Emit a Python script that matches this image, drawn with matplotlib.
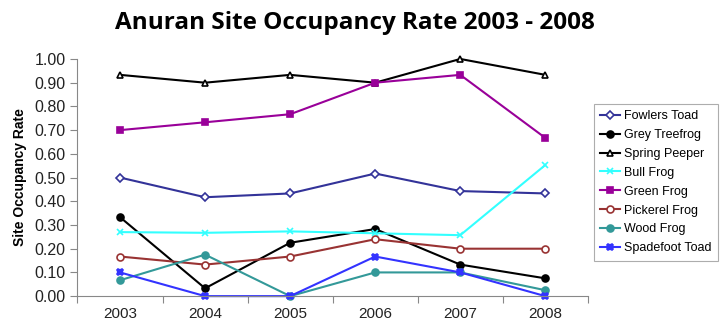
import matplotlib
matplotlib.use("Agg")
import matplotlib.pyplot as plt
import numpy as np

plt.rcParams['font.family'] = ['Liberation Sans', 'DejaVu Sans']

years = ['2003', '2004', '2005', '2006', '2007', '2008']

fowlers_toad = [0.50, 0.417, 0.433, 0.517, 0.443, 0.433]
grey_treefrog = [0.333, 0.033, 0.225, 0.283, 0.133, 0.075]
spring_peeper = [0.933, 0.900, 0.933, 0.900, 1.000, 0.933]
bull_frog = [0.270, 0.267, 0.273, 0.265, 0.257, 0.553]
green_frog = [0.700, 0.733, 0.767, 0.900, 0.933, 0.667]
pickerel_frog = [0.167, 0.133, 0.167, 0.240, 0.200, 0.200]
wood_frog = [0.067, 0.175, 0.000, 0.100, 0.100, 0.025]
spadefoot_toad = [0.100, 0.000, 0.000, 0.167, 0.100, 0.000]

series = [
    ('Fowlers Toad', fowlers_toad, '#333399', 'D', 'white', 4),
    ('Grey Treefrog', grey_treefrog, '#000000', 'o', '#000000', 5),
    ('Spring Peeper', spring_peeper, '#000000', '^', 'white', 5),
    ('Bull Frog', bull_frog, '#33ffff', 'x', '#33ffff', 5),
    ('Green Frog', green_frog, '#990099', 's', '#990099', 5),
    ('Pickerel Frog', pickerel_frog, '#993333', 'o', 'white', 5),
    ('Wood Frog', wood_frog, '#339999', 'o', '#339999', 5),
    ('Spadefoot Toad', spadefoot_toad, '#3333ff', 'X', '#3333ff', 5),
]

fig = plt.figure(figsize=(7.24, 3.24), dpi=100)
ax = fig.add_axes([0.107, 0.086, 0.705, 0.732])

x = np.arange(len(years))
for name, vals, color, marker, mfc, ms in series:
    ax.plot(x, vals, color=color, linewidth=1.5, marker=marker, markersize=ms,
            markerfacecolor=mfc, markeredgecolor=color, markeredgewidth=1.2,
            label=name, clip_on=False)

ax.set_xlim(-0.5, len(years) - 0.5)
ax.set_ylim(0, 1.0)
ax.set_yticks(np.arange(0, 1.01, 0.1))
ax.set_yticklabels([f'{v:.2f}' for v in np.arange(0, 1.01, 0.1)])
ax.set_xticks(np.arange(-0.5, len(years), 1.0))
ax.set_xticklabels([])
ax.set_xticks(x, minor=True)
ax.set_xticklabels(years, minor=True)
ax.tick_params(axis='x', which='minor', length=0, pad=8, labelsize=11, colors='#222222')
ax.tick_params(axis='x', which='major', length=5, color='#888888')
ax.tick_params(axis='y', length=5, color='#888888', labelsize=11.5, labelcolor='#222222')

for s in ['top', 'right']:
    ax.spines[s].set_visible(False)
for s in ['left', 'bottom']:
    ax.spines[s].set_color('#888888')

ax.set_ylabel('Site Occupancy Rate', fontsize=10, fontweight='bold', labelpad=5)

fig.text(0.49, 0.93, 'Anuran Site Occupancy Rate 2003 - 2008', ha='center', va='center',
         fontsize=17.5, fontweight='bold', family=['Open Sans', 'DejaVu Sans'])

leg = ax.legend(loc='center left', bbox_to_anchor=(1.005, 0.48), fontsize=9,
                frameon=True, fancybox=False, handlelength=1.6, handletextpad=0.3,
                labelspacing=0.55, borderpad=0.5, borderaxespad=0.3)
leg.get_frame().set_edgecolor('#999999')
leg.get_frame().set_linewidth(0.8)

fig.savefig('out.png', dpi=100)
